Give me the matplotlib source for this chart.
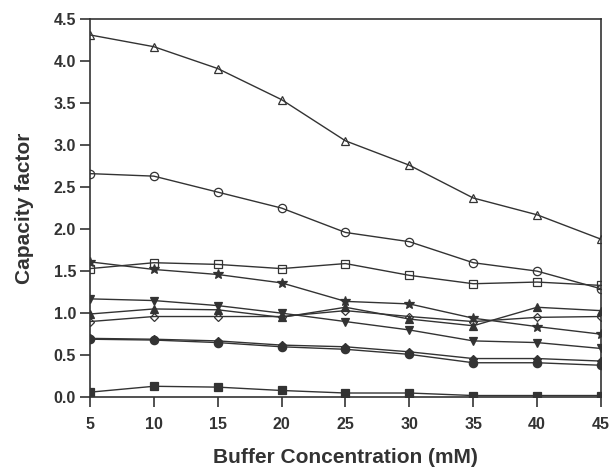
import numpy as np
import matplotlib
matplotlib.use('Agg')
import matplotlib.pyplot as plt

plt.rcParams['font.family'] = ['Liberation Sans', 'DejaVu Sans']

# Buffer concentration (mM)
conc = [5, 10, 15, 20, 25, 30, 35, 40, 45]

# Capacity factor values
k_tri_open = [4.31, 4.17, 3.91, 3.54, 3.05, 2.76, 2.37, 2.17, 1.88]
k_circ_open = [2.66, 2.63, 2.44, 2.25, 1.96, 1.85, 1.60, 1.50, 1.29]
k_sq_open = [1.53, 1.60, 1.58, 1.53, 1.59, 1.45, 1.35, 1.37, 1.33]
k_star = [1.61, 1.52, 1.46, 1.36, 1.14, 1.11, 0.94, 0.84, 0.75]
k_tri_down = [1.17, 1.15, 1.09, 1.00, 0.90, 0.80, 0.67, 0.65, 0.58]
k_tri_fill = [0.99, 1.05, 1.04, 0.95, 1.07, 0.93, 0.85, 1.07, 1.03]
k_diam_open = [0.90, 0.96, 0.96, 0.96, 1.03, 0.96, 0.90, 0.95, 0.96]
k_diam_fill = [0.70, 0.69, 0.67, 0.62, 0.60, 0.54, 0.46, 0.46, 0.43]
k_circ_fill = [0.69, 0.68, 0.65, 0.60, 0.57, 0.51, 0.41, 0.41, 0.38]
k_sq_fill = [0.06, 0.13, 0.12, 0.08, 0.05, 0.05, 0.02, 0.02, 0.02]

series = [
    (k_tri_open, '^', 'none'),
    (k_circ_open, 'o', 'none'),
    (k_sq_open, 's', 'none'),
    (k_star, '*', '#333333'),
    (k_tri_down, 'v', '#333333'),
    (k_tri_fill, '^', '#333333'),
    (k_diam_open, 'D', 'none'),
    (k_diam_fill, 'D', '#333333'),
    (k_circ_fill, 'o', '#333333'),
    (k_sq_fill, 's', '#333333'),
]

fig = plt.figure(figsize=(6.12, 4.74), dpi=100)
ax = fig.add_axes([0.147, 0.162, 0.835, 0.798])

for vals, m, fc in series:
    ms = 6
    if m == '*':
        ms = 7
    if m == 'D':
        ms = 4
    ax.plot(conc, vals, color='#333333', lw=1.0, marker=m, markersize=ms,
            markerfacecolor=fc, markeredgecolor='#333333', markeredgewidth=0.9)

ax.set_xlim(5, 45)
ax.set_ylim(0, 4.5)
ax.set_xticks(conc)
ax.set_yticks(np.arange(0, 4.51, 0.5))
ax.set_yticklabels([f'{v:.1f}' for v in np.arange(0, 4.51, 0.5)])
ax.tick_params(direction='out', length=7, width=1.2, color='#333333',
               labelsize=11.5, labelcolor='#333333')
ax.tick_params(axis='x', pad=7)
ax.tick_params(axis='y', pad=3)
for lab in ax.get_xticklabels() + ax.get_yticklabels():
    lab.set_fontweight('bold')
for sp in ax.spines.values():
    sp.set_linewidth(1.2)
    sp.set_color('#333333')

ax.set_xlabel('Buffer Concentration (mM)', fontsize=15, fontweight='bold',
              color='#333333', labelpad=12)
ax.set_ylabel('Capacity factor', fontsize=15, fontweight='bold',
              color='#333333', labelpad=14)

fig.savefig('out.png', dpi=100)
